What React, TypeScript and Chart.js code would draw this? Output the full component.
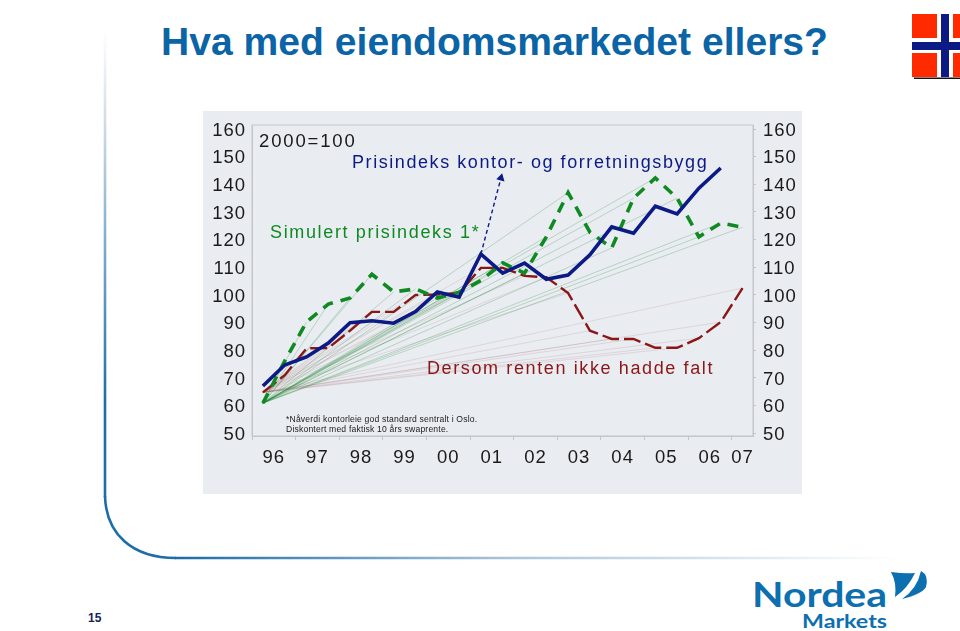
import React, { useEffect, useRef } from "react";
import { Chart, registerables } from "chart.js";

Chart.register(...registerables);

const TITLE = "Hva med eiendomsmarkedet ellers?";
const PAGE_NUMBER = "15";
const yTickValues = [50, 60, 70, 80, 90, 100, 110, 120, 130, 140, 150, 160];
const xBoundaryTicks = [-0.5, 1.5, 3.5, 5.5, 7.5, 9.5, 11.5, 13.5, 15.5, 17.5, 19.5, 21.5];
const xLabelPositions = [0.5, 2.5, 4.5, 6.5, 8.5, 10.5, 12.5, 14.5, 16.5, 18.5, 20.5, 22];
const xLabels = ["96", "97", "98", "99", "00", "01", "02", "03", "04", "05", "06", "07"];

const officePrice = [67.1, 74.7, 77.6, 82.6, 90, 90.7, 89.8, 94, 101.1, 99.2, 114.8, 107.9, 111.5, 105.7, 107.2, 114.5, 124.6, 122.3, 132.1, 129.3, 138.6, 145.9];
const simulated = [60.9, 76.1, 90.2, 96.7, 98.9, 107.5, 101.1, 102.2, 98.9, 101, 105.2, 111.6, 107.9, 121, 137, 122.7, 117, 135, 142.3, 135, 121, 126, 124.5];
const noRateFall = [64.8, 71, 80.7, 80.8, 87.1, 93.9, 93.9, 100, 100.2, 100.7, 109.8, 109.8, 106.9, 106.4, 100.7, 87.1, 84.1, 84.1, 80.9, 80.9, 84.4, 90.2, 102.5];
const arrowX = [10, 10.92];
const arrowY = [114.8, 142.3];

const NAVY = "#0c1a86";
const GREEN = "#0f8a22";
const RED = "#8a1616";
const INK = "#1a1a1a";
const AXIS = "#c3c7cc";
const FONT = "'Liberation Sans', Arial, sans-serif";

const notes = [
  { text: "2000=100", x: 56, y: 35.5, size: 18.5, spacing: 1.85, color: INK },
  { text: "Prisindeks kontor- og forretningsbygg", x: 149, y: 56.5, size: 18, spacing: 1.57, color: NAVY },
  { text: "Simulert prisindeks 1*", x: 67, y: 126.5, size: 18, spacing: 1.65, color: GREEN },
  { text: "Dersom renten ikke hadde falt", x: 224, y: 263, size: 18, spacing: 1.62, color: RED },
  { text: "*Nåverdi kontorleie god standard sentralt i Oslo.", x: 83, y: 311, size: 8.6, spacing: 0.18, color: INK },
  { text: "Diskontert med faktisk 10 års swaprente.", x: 83, y: 320.5, size: 8.6, spacing: 0.18, color: INK },
];

const toPoints = (values: number[]) => values.map((y, x) => ({ x, y }));

const fan = (values: number[], color: string) =>
  values.slice(1).map((y, i) => ({
    data: [{ x: 0, y: values[0] }, { x: i + 1, y }],
    borderColor: color,
    borderWidth: 0.8,
    pointRadius: 0,
    order: 10,
  }));

const notesPlugin = {
  id: "notes",
  beforeDraw(chart: any) {
    chart.ctx.letterSpacing = "1px";
  },
  beforeDatasetsDraw(chart: any) {
    const { ctx, chartArea: a } = chart;
    ctx.save();
    ctx.strokeStyle = AXIS;
    ctx.lineWidth = 1;
    ctx.strokeRect(a.left, a.top, a.width, a.height);
    ctx.restore();
  },
  afterDatasetsDraw(chart: any) {
    const { ctx } = chart;
    ctx.save();
    ctx.textBaseline = "alphabetic";
    ctx.textAlign = "left";
    for (const n of notes) {
      ctx.font = `${n.size}px ${FONT}`;
      ctx.letterSpacing = `${n.spacing}px`;
      ctx.fillStyle = n.color;
      ctx.fillText(n.text, n.x, n.y);
    }
    ctx.restore();
  },
};

const fitHeight = (h: number) => (s: any) => {
  s.height = h;
  s.paddingLeft = 0;
  s.paddingRight = 0;
};
const fitWidth = (w: number) => (s: any) => {
  s.width = w;
  s.paddingTop = 0;
  s.paddingBottom = 0;
};

function App() {
  const ref = useRef<HTMLCanvasElement>(null);
  useEffect(() => {
    const tickFont = { family: FONT, size: 18.5 };
    const chart = new Chart(ref.current as HTMLCanvasElement, {
      type: "line",
      data: {
        datasets: [
          ...fan(simulated, "rgba(20,130,40,0.3)"),
          ...fan(noRateFall, "rgba(140,70,70,0.18)"),
          {
            label: "Dersom renten ikke hadde falt",
            data: toPoints(noRateFall),
            borderColor: RED,
            borderWidth: 2.4,
            borderDash: [17, 5],
            pointRadius: 0,
            order: 4,
          },
          {
            label: "Simulert prisindeks 1*",
            data: toPoints(simulated),
            borderColor: GREEN,
            borderWidth: 3.6,
            borderDash: [11, 8],
            pointRadius: 0,
            order: 3,
          },
          {
            label: "Prisindeks kontor- og forretningsbygg",
            data: toPoints(officePrice),
            borderColor: NAVY,
            borderWidth: 3.6,
            pointRadius: 0,
            order: 2,
          },
          {
            label: "arrow",
            data: arrowX.map((x, i) => ({ x, y: arrowY[i] })),
            borderColor: NAVY,
            backgroundColor: NAVY,
            borderWidth: 1.4,
            borderDash: [4, 3],
            pointStyle: "triangle",
            pointRotation: 14,
            pointRadius: (c: any) => (c.dataIndex === 1 ? 3.5 : 0),
            order: 1,
          },
        ] as any,
      },
      options: {
        animation: false,
        responsive: false,
        events: [],
        layout: { padding: { top: 14, left: 0, right: 0, bottom: 0 } },
        plugins: { legend: { display: false }, tooltip: { enabled: false } },
        scales: {
          x: {
            type: "linear",
            position: "bottom",
            min: -0.5,
            max: 22.48,
            afterBuildTicks: (s: any) => { s.ticks = xBoundaryTicks.map((value) => ({ value })); },
            afterFit: fitHeight(4),
            grid: { drawOnChartArea: false, tickLength: 4, color: AXIS },
            border: { color: AXIS },
            ticks: { display: false },
          },
          xLabels: {
            type: "linear",
            position: "bottom",
            min: -0.5,
            max: 22.48,
            afterBuildTicks: (s: any) => { s.ticks = xLabelPositions.map((value) => ({ value })); },
            afterFit: fitHeight(54),
            grid: { display: false },
            border: { display: false },
            ticks: {
              font: tickFont,
              color: INK,
              padding: -1,
              maxRotation: 0,
              autoSkip: false,
              callback: (_v: any, i: number) => xLabels[i],
            },
          },
          y: {
            type: "linear",
            position: "left",
            min: 49.02,
            max: 161.45,
            afterBuildTicks: (s: any) => { s.ticks = yTickValues.map((value) => ({ value })); },
            afterFit: fitWidth(49),
            grid: { drawOnChartArea: false, drawTicks: false, color: AXIS },
            border: { color: AXIS },
            ticks: { font: tickFont, color: INK, padding: 6, labelOffset: 1.5, autoSkip: false, callback: (v: any) => String(v) },
          },
          yRight: {
            type: "linear",
            position: "right",
            min: 49.02,
            max: 161.45,
            afterBuildTicks: (s: any) => { s.ticks = yTickValues.map((value) => ({ value })); },
            afterFit: fitWidth(49),
            grid: { drawOnChartArea: false, tickLength: 3, color: AXIS },
            border: { color: AXIS },
            ticks: { font: tickFont, color: INK, padding: 7, labelOffset: 1.5, autoSkip: false, callback: (v: any) => String(v) },
          },
        },
      } as any,
      plugins: [notesPlugin],
    });
    return () => chart.destroy();
  }, []);

  return (
    <div style={{ position: "fixed", left: 0, top: 0, width: 960, height: 631, background: "#fff", overflow: "hidden" }}>
      <svg width={960} height={631} style={{ position: "absolute", left: 0, top: 0 }}>
        <defs>
          <linearGradient id="fv" gradientUnits="userSpaceOnUse" x1="0" y1="30" x2="0" y2="400">
            <stop offset="0" stopColor="#ffffff" />
            <stop offset="0.25" stopColor="#cfdbe6" />
            <stop offset="1" stopColor="#1d6ea8" />
          </linearGradient>
          <linearGradient id="fh" gradientUnits="userSpaceOnUse" x1="180" y1="0" x2="900" y2="0">
            <stop offset="0" stopColor="#1d6ea8" />
            <stop offset="0.45" stopColor="#a8c3d8" />
            <stop offset="1" stopColor="#ffffff" />
          </linearGradient>
        </defs>
        <path d="M105 30 V497" fill="none" stroke="url(#fv)" strokeWidth={2.6} />
        <path d="M105 496 C106 534 132 558 176 558" fill="none" stroke="#1d6ea8" strokeWidth={2.6} />
        <path d="M175 558 H900" fill="none" stroke="url(#fh)" strokeWidth={2.6} />
        <rect x={912} y={14} width={48} height={63} fill="#ff2a00" />
        <rect x={937} y={14} width={16} height={63} fill="#fff" />
        <rect x={912} y={38} width={48} height={15} fill="#fff" />
        <rect x={941} y={14} width={8} height={63} fill="#0c1a86" />
        <rect x={912} y={42} width={48} height={8} fill="#0c1a86" />
        <rect x={914} y={77.5} width={46} height={1.5} fill="#111" />
        <text x={161} y={55} fontFamily={FONT} fontSize={38} fontWeight="bold" fill="#0b64a5" textLength={667} lengthAdjust="spacingAndGlyphs">{TITLE}</text>
        <text x={88} y={622} fontFamily={FONT} fontSize={12} fontWeight="bold" fill="#14235a">{PAGE_NUMBER}</text>
        <text x={752} y={607} fontFamily="Lato, sans-serif" fontWeight="bold" fontSize={35} fill="#0c6fb0" textLength={135} lengthAdjust="spacingAndGlyphs">Nordea</text>
        <text x={802} y={628} fontFamily="Lato, sans-serif" fontSize={19} fontWeight="bold" fill="#0c6fb0" textLength={85} lengthAdjust="spacingAndGlyphs">Markets</text>
        <path d="M891 572 Q905 574 915 573 Q908 588 895 597 Q897 583 891 572Z" fill="#0c6fb0" />
        <path d="M921 571 Q929 575 926 587 Q922 594 902 599 Q917 589 921 571Z" fill="#0c6fb0" />
      </svg>
      <canvas
        ref={ref}
        width={599}
        height={383}
        style={{ position: "absolute", left: 203, top: 111, width: 599, height: 383, background: "#e9ecf1" }}
      />
    </div>
  );
}

export default App;
